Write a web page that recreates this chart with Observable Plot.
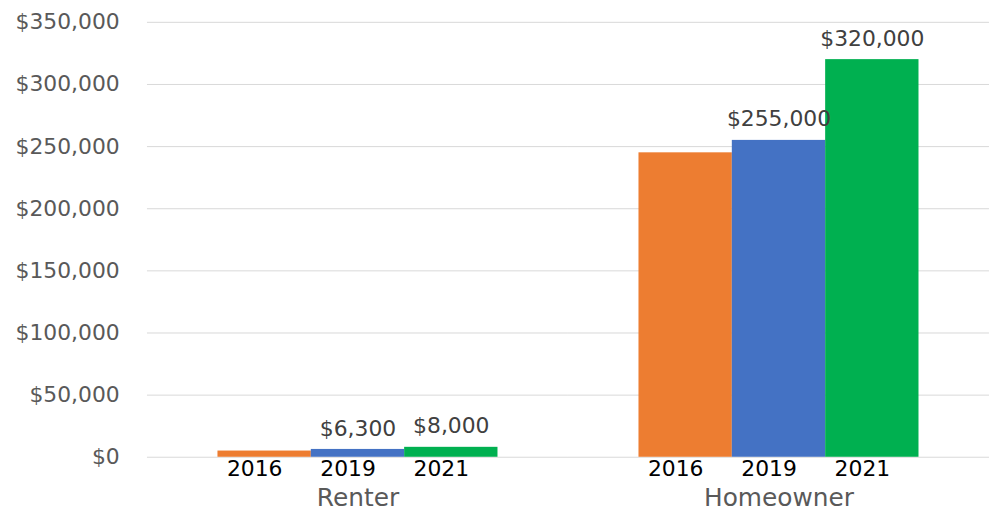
<!DOCTYPE html>
<html>
<head>
<meta charset="utf-8">
<script src="https://cdn.jsdelivr.net/npm/d3@7"></script>
<script src="https://cdn.jsdelivr.net/npm/@observablehq/plot@0.6"></script>
<style>
  html, body { margin: 0; padding: 0; background: #fff; overflow: hidden; }
  #chart { width: 989px; height: 517px; overflow: hidden; }
</style>
</head>
<body>
<div id="chart"></div>
<script>
const groups = ["Renter", "Homeowner"];
const years = ["2016", "2019", "2021"];
const renterValues = [5000, 6300, 8000];
const homeownerValues = [245000, 255000, 320000];
const renterLabels = ["", "$6,300", "$8,000"];
const homeownerLabels = ["", "$255,000", "$320,000"];
const yearColors = ["#ED7D31", "#4472C4", "#00B050"];
const yTicks = [0, 50000, 100000, 150000, 200000, 250000, 300000, 350000];

const seriesValues = [renterValues, homeownerValues];
const seriesLabels = [renterLabels, homeownerLabels];
const data = groups.flatMap((g, i) => years.map((yr, j) => ({
  group: g, year: yr, value: seriesValues[i][j], label: seriesLabels[i][j]
})));

const fmt = d => "$" + d3.format(",")(d);

const chart = Plot.plot({
  width: 996,
  height: 517,
  marginLeft: 147,
  marginRight: 0,
  marginTop: 22,
  marginBottom: 57,
  style: { fontFamily: "'DejaVu Sans', sans-serif", background: "#fff" },
  fx: { domain: groups, padding: 0, axis: null },
  x: { domain: years, paddingInner: 0, paddingOuter: 0.742, axis: null },
  y: { domain: [0, 350000], axis: null },
  color: { domain: years, range: yearColors },
  marks: [
    Plot.gridY(yTicks, { stroke: "#d9d9d9", strokeOpacity: 1, strokeWidth: 1 }),
    Plot.barY(data, { fx: "group", x: "year", y: "value", fill: "year" }),
    Plot.text(data, {
      fx: "group", x: "year", y: "value", text: "label",
      lineAnchor: "bottom", dy: -14, fontSize: 22, fill: "#404040"
    }),
    Plot.axisY(yTicks, {
      tickSize: 0, tickPadding: 28, tickFormat: fmt, fontSize: 22,
      fill: "#595959", label: null
    }),
    Plot.axisX({
      anchor: "bottom", tickSize: 0, tickPadding: 3, dx: -10, fontSize: 22,
      fill: "#000", label: null
    }),
    Plot.axisFx({
      anchor: "bottom", tickSize: 0, tickPadding: 31, fontSize: 25,
      fill: "#595959", label: null
    })
  ]
});
document.getElementById("chart").appendChild(chart);
</script>
</body>
</html>
